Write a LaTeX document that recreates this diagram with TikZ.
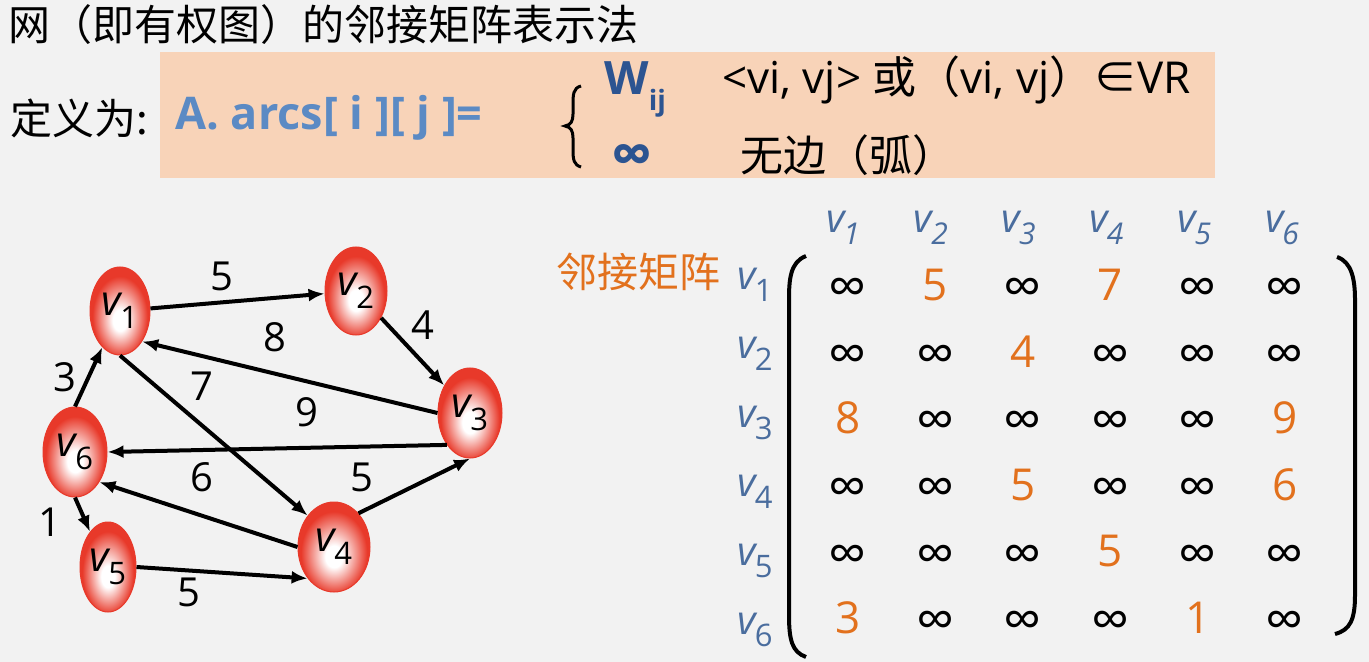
\documentclass[tikz,border=0pt]{standalone}
\usepackage{fontspec}
\setmainfont{Open Sans}
\newfontfamily\cjk{Noto Sans CJK SC}
\usetikzlibrary{shapes.geometric,arrows.meta}
\definecolor{bg}{HTML}{F2F2F2}
\definecolor{peach}{HTML}{F8D3B8}
\definecolor{arcblue}{HTML}{5B8AC4}
\definecolor{wblue}{HTML}{2C5491}
\definecolor{lblue}{HTML}{4A6D9E}
\definecolor{morange}{HTML}{E2711D}
\definecolor{nodered}{HTML}{E8392A}
\pgfdeclareradialshading{redball}{\pgfpoint{0bp}{-6bp}}{color(0bp)=(white); color(6bp)=(white); color(23bp)=(nodered); color(25bp)=(nodered); color(50bp)=(nodered)}
\newcommand\vlab[1]{{\itshape v}\kern-0.5pt\raisebox{-0.3em}{\fontsize{15.5}{15.5}\selectfont #1}}
\newcommand\hlab[1]{{\itshape v\kern-0.5pt\raisebox{-0.3em}{\fontsize{15}{15}\selectfont #1}}}
\newcommand\symbolinf{∞}
\newcommand\cellval[1]{\ifx I#1\relax{\symbolinf}\else{#1}\fi}
\newcommand\pickstyle[1]{\ifx I#1\relax\def\cellstyle{infcell}\else\def\cellstyle{numcell}\fi}
\tikzset{
  vnode/.style={ellipse, shading=redball, draw=nodered, line width=0.5pt, inner sep=0pt,
    font=\fontsize{21}{21}\selectfont},
  edge/.style={line width=2pt, -{Latex[length=8pt,width=6.5pt]}},
  wlab/.style={inner sep=0pt, font=\fontsize{20}{20}\selectfont},
  numcell/.style={inner sep=0pt, text=morange, font=\fontsize{22}{22}\selectfont},
  infcell/.style={inner sep=0pt, yshift=-3.5pt, font=\fontsize{27}{27}\selectfont},
  hdr/.style={inner sep=0pt, text=lblue, font=\fontsize{20}{20}\selectfont},
  cjktext/.style={inner sep=0pt, anchor=west, font=\cjk\fontsize{21}{24}\selectfont},
}
\begin{document}
\begin{tikzpicture}[x=0.5pt,y=-0.5pt]
\fill[bg] (0,0) rectangle (1369,662);
\useasboundingbox (0,0) rectangle (1369,662);

% title
\node[cjktext] (title) at (8,25) {网（即有权图）的邻接矩阵表示法};

% definition box
\node[fill=peach, inner sep=0pt, minimum width=527.5pt, minimum height=63pt, anchor=north west] (defbox) at (160,52) {};
\node[cjktext] (defn) at (10,118) {定义为:};
\node[inner sep=0pt, anchor=west, text=arcblue, font=\bfseries\fontsize{22.5}{22.5}\selectfont] (arcs) at (175,118) {A. arcs[ i ][ j ]=};
\draw[line width=1.5pt] (581,86) .. controls (573,88) and (573,95) .. (573,105) -- (573,114)
  .. controls (573,121) and (571,125) .. (565,126) .. controls (571,127) and (573,131) .. (573,138)
  -- (573,150) .. controls (573,160) and (574,165) .. (581,167);
\node[inner sep=0pt, anchor=west, text=wblue, font=\bfseries\fontsize{23}{23}\selectfont] (wij) at (604,89) {W\raisebox{-0.35em}{\fontsize{14}{14}\selectfont ij}};
\node[inner sep=0pt, text=wblue, font=\bfseries\fontsize{29}{29}\selectfont] (inf1) at (632,160) {∞};
\node[inner sep=0pt, anchor=west, font=\fontsize{22}{22}\selectfont] (cond1) at (722,80) {<vi, vj> {\cjk 或（}vi, vj{\cjk ）∈}VR};
\node[cjktext, font=\cjk\fontsize{21.5}{24}\selectfont] (cond2) at (740,155) {无边（弧）};

% graph nodes
\node[vnode, minimum width=30pt, minimum height=44pt] (v1) at (120,311) {\vlab{1}};
\node[vnode, minimum width=31pt, minimum height=44pt] (v2) at (356,291) {\vlab{2}};
\node[vnode, minimum width=32pt, minimum height=45pt] (v3) at (470,413) {\vlab{3}};
\node[vnode, minimum width=36pt, minimum height=45pt] (v4) at (334,547) {\vlab{4}};
\node[vnode, minimum width=28pt, minimum height=45pt] (v5) at (108,567) {\vlab{5}};
\node[vnode, minimum width=32pt, minimum height=45pt] (v6) at (75,452) {\vlab{6}};

% edges
\draw[edge] (v1) -- (v2);
\draw[edge] (v2) -- (v3);
\draw[edge] (v3.180) -- (v1.-54);
\draw[edge] (v1.south) -- (v4.130);
\draw[edge] (v3.234) -- (v6.0);
\draw[edge] (v4.54) -- (v3.270);
\draw[edge] (v4.180) -- (v6.-51);
\draw[edge] (v6.90) -- (v1.244);
\draw[edge] (v6.270) -- (v5.117);
\draw[edge] (v5.0) -- (v4.230);

% weights
\node[wlab] (w12) at (222,276) {5};
\node[wlab] (w23) at (423,325) {4};
\node[wlab] (w31) at (275,337) {8};
\node[wlab] (w14) at (202,386) {7};
\node[wlab] (w61) at (65,377) {3};
\node[wlab] (w36) at (307,412) {9};
\node[wlab] (w46) at (202,477) {6};
\node[wlab] (w43) at (362,477) {5};
\node[wlab] (w65) at (50,522) {1};
\node[wlab] (w54) at (189,592) {5};

% matrix
\node[inner sep=0pt, anchor=west, text=morange, font=\cjk\fontsize{20.5}{24}\selectfont] (adjlab) at (556,272) {邻接矩阵};
\foreach \c in {1,...,6} {
  \node[hdr] (h\c) at ({843+(\c-1)*87.8},228) {\hlab{\c}};
  \node[hdr] (r\c) at (755,{285+(\c-1)*69}) {\vlab{\c}};
}
\foreach \r/\row in {1/{I,5,I,7,I,I},2/{I,I,4,I,I,I},3/{8,I,I,I,I,9},4/{I,I,5,I,I,6},5/{I,I,I,5,I,I},6/{3,I,I,I,1,I}} {
  \foreach \e [count=\c] in \row {
    \expandafter\pickstyle\expandafter{\e}
    \node[\cellstyle] (m\r\c) at ({848+(\c-1)*87.4},{285+(\r-1)*66.6}) {\expandafter\cellval\expandafter{\e}};
  }
}
\draw[line width=2pt] (806,256) .. controls (790,262) and (789,280) .. (789,300) -- (789,615)
  .. controls (789,640) and (792,652) .. (806,657);
\draw[line width=2pt] (1337,257) .. controls (1352,262) and (1355,280) .. (1355,300) -- (1355,595)
  .. controls (1355,620) and (1350,630) .. (1335,634);
\end{tikzpicture}
\end{document}
